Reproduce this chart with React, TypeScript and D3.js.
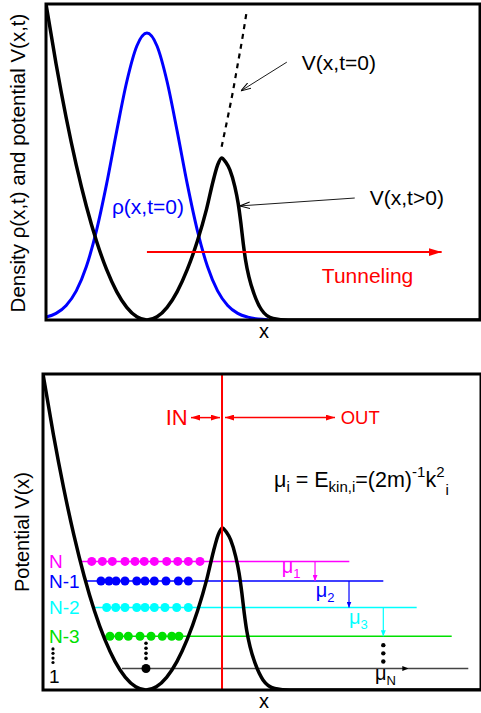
import * as d3 from 'd3';

// ---- top panel data (x, value) ----
const potentialTrap: [number, number][] = [
  [-1, 1], [-0.9, 0.81], [-0.8, 0.64], [-0.7, 0.49], [-0.6, 0.36], [-0.5, 0.25],
  [-0.4, 0.16], [-0.3, 0.09], [-0.2, 0.04], [-0.1, 0.01], [0, 0], [0.1, 0.01],
  [0.2, 0.04], [0.3, 0.09], [0.4, 0.16], [0.5, 0.25], [0.59, 0.35], [0.656, 0.44],
  [0.7, 0.49], [0.74, 0.513], [0.78, 0.5], [0.822, 0.475], [0.871, 0.422],
  [0.904, 0.369], [0.931, 0.306], [0.954, 0.243], [0.977, 0.19], [1.01, 0.137],
  [1.06, 0.084], [1.136, 0.032], [1.25, 0.005], [1.4, 0], [3.3, 0],
];
const potentialInitial: [number, number][] = [
  [0.74, 0.548], [0.8, 0.64], [0.85, 0.72], [0.9, 0.81], [0.95, 0.9], [0.985, 0.97],
];
const density: [number, number][] = [
  [-1, 0.009], [-0.9, 0.021], [-0.8, 0.046], [-0.7, 0.092], [-0.6, 0.169], [-0.5, 0.283],
  [-0.4, 0.43], [-0.3, 0.597], [-0.2, 0.754], [-0.1, 0.867], [0, 0.908], [0.1, 0.867],
  [0.2, 0.754], [0.3, 0.597], [0.4, 0.43], [0.5, 0.283], [0.6, 0.169], [0.7, 0.092],
  [0.8, 0.046], [0.9, 0.021], [1.0, 0.009], [1.1, 0.003], [1.2, 0.001],
];
const tunnelArrow: [number, number][] = [[0, 0.215], [2.92, 0.215]];
const arrowV0: [number, number][] = [[1.386, 0.816], [0.931, 0.725]];
const arrowVt: [number, number][] = [[2.059, 0.386], [0.921, 0.361]];

// ---- bottom panel data ----
const levelNames = ['N', 'N-1', 'N-2', 'N-3'];
const levelColors = ['#ff00ff', '#0000ff', '#00ffff', '#00e000'];
const levelEnergy = [0.407, 0.345, 0.261, 0.17];
const levelStart = [-0.621, -0.592, -0.495, -0.417];
const levelEnd = [1.974, 2.304, 2.628, 2.968];
const levelDots = [
  [-0.527, -0.424, -0.327, -0.204, -0.107, -0.017, 0.081, 0.201, 0.308, 0.411, 0.524],
  [-0.437, -0.359, -0.291, -0.204, -0.09, -0.01, 0.081, 0.194, 0.314, 0.411],
  [-0.382, -0.294, -0.204, -0.09, -0.01, 0.081, 0.184, 0.298, 0.411],
  [-0.35, -0.262, -0.172, -0.058, 0.049, 0.158, 0.25, 0.32],
];
const groundEnergy = 0.068;
const groundRange = [-0.233, 3.129];
const muArrowX = [1.641, 1.971, 2.304, 2.547];
const muSubs = ['1', '2', '3', 'N'];
const muColors = ['#ff00ff', '#0000ff', '#00ffff', '#000000'];
const muLabelPos: [number, number][] = [[1.318, 0.37], [1.648, 0.294], [1.971, 0.209], [2.223, 0.032]];
const centerDotsV = [0.148, 0.132, 0.116, 0.1];
const rightDotsV = [0.142, 0.116, 0.09];
const leftDotsV = [0.13, 0.116, 0.101, 0.087];
const barrierX = 0.738;

const FONT = 'Liberation Sans, Arial, Helvetica, sans-serif';

export default function App() {
  const xT = d3.scaleLinear().domain([-1, 3.3]).range([46, 480]);
  const yT = d3.scaleLinear().domain([0, 1]).range([320, 4]);
  const xB = d3.scaleLinear().domain([-1, 3.25]).range([43, 480.75]);
  const yB = d3.scaleLinear().domain([0, 1]).range([690, 374]);

  const lineT = d3.line<[number, number]>().x(d => xT(d[0])).y(d => yT(d[1])).curve(d3.curveMonotoneX);
  const lineB = d3.line<[number, number]>().x(d => xB(d[0])).y(d => yB(d[1])).curve(d3.curveMonotoneX);
  const straightT = d3.line<[number, number]>().x(d => xT(d[0])).y(d => yT(d[1]));

  const levels = levelNames.map((name, i) => ({
    name, color: levelColors[i], e: levelEnergy[i], x0: levelStart[i], x1: levelEnd[i], dots: levelDots[i],
  }));
  const muTargets = [...levelEnergy.slice(1), groundEnergy, 0];

  return (
    <svg width={481} height={713} style={{ position: 'absolute', left: 0, top: 0 }} fontFamily={FONT}>
      <defs>
        <clipPath id="clipT"><rect x={46} y={4} width={434} height={316} /></clipPath>
        <clipPath id="clipB"><rect x={43} y={374} width={438} height={316} /></clipPath>
        <marker id="openHead" viewBox="0 0 10 8" refX={10} refY={4} markerWidth={10} markerHeight={8}
          markerUnits="userSpaceOnUse" orient="auto">
          <path d="M0,0.8 L10,4 L0,7.2" fill="none" stroke="#000" strokeWidth={1} />
        </marker>
        <marker id="redBig" viewBox="0 0 13 8" refX={13} refY={4} markerWidth={13} markerHeight={8}
          markerUnits="userSpaceOnUse" orient="auto">
          <path d="M0,0 L13,4 L0,8 Z" fill="#ff0000" />
        </marker>
        <marker id="redSmall" viewBox="0 0 9 6" refX={9} refY={3} markerWidth={9} markerHeight={6}
          markerUnits="userSpaceOnUse" orient="auto-start-reverse">
          <path d="M0,0 L9,3 L0,6 Z" fill="#ff0000" />
        </marker>
        {muColors.map((c, i) => (
          <marker key={i} id={`mu${i}`} viewBox="0 0 6 5" refX={6} refY={2.5} markerWidth={6} markerHeight={5}
            markerUnits="userSpaceOnUse" orient="auto">
            <path d="M0,0 L6,2.5 L0,5 Z" fill={c} />
          </marker>
        ))}
      </defs>

      {/* ---------------- top panel ---------------- */}
      <g clipPath="url(#clipT)">
        <path d={lineT(density) ?? ''} fill="none" stroke="#0000ff" strokeWidth={3} />
        <path d={lineT(potentialTrap) ?? ''} fill="none" stroke="#000" strokeWidth={3.5} />
        <path d={lineT(potentialInitial) ?? ''} fill="none" stroke="#000" strokeWidth={2.2} strokeDasharray="5,5" />
      </g>
      <path d={straightT(tunnelArrow) ?? ''} stroke="#ff0000" strokeWidth={2} markerEnd="url(#redBig)" />
      <path d={straightT(arrowV0) ?? ''} stroke="#000" strokeWidth={0.9} markerEnd="url(#openHead)" />
      <path d={straightT(arrowVt) ?? ''} stroke="#000" strokeWidth={0.9} markerEnd="url(#openHead)" />
      <rect x={46} y={4} width={434} height={316} fill="none" stroke="#000" strokeWidth={3} />

      <text x={xT(1.535)} y={yT(0.791)} fontSize={21}>V(x,t=0)</text>
      <text x={xT(2.208)} y={yT(0.364)} fontSize={21}>V(x,t&gt;0)</text>
      <text x={xT(-0.347)} y={yT(0.335)} fontSize={21} fill="#0000ff">ρ(x,t=0)</text>
      <text x={xT(1.733)} y={yT(0.117)} fontSize={21} fill="#ff0000">Tunneling</text>
      <text x={264} y={338} fontSize={20} textAnchor="middle">x</text>
      <text transform="translate(25,163) rotate(-90)" fontSize={20.5} textAnchor="middle">
        Density ρ(x,t) and potential V(x,t)
      </text>

      {/* ---------------- bottom panel ---------------- */}
      <g clipPath="url(#clipB)">
        {levels.map((l, i) => (
          <line key={i} x1={xB(l.x0)} x2={xB(l.x1)} y1={yB(l.e)} y2={yB(l.e)} stroke={l.color} strokeWidth={1.5} />
        ))}
        <line x1={xB(groundRange[0])} x2={xB(groundRange[1])} y1={yB(groundEnergy)} y2={yB(groundEnergy)}
          stroke="#444" strokeWidth={1.3} />
        {levels.map((l, i) => (
          <g key={i}>
            {l.dots.map((d, j) => (
              <circle key={j} cx={xB(d)} cy={yB(l.e)} r={4.5} fill={l.color} />
            ))}
          </g>
        ))}
        {centerDotsV.map((v, j) => <circle key={j} cx={xB(0)} cy={yB(v)} r={1.8} fill="#000" />)}
        <circle cx={xB(0)} cy={yB(groundEnergy)} r={4.5} fill="#000" />
        {rightDotsV.map((v, j) => <circle key={j} cx={xB(muArrowX[2])} cy={yB(v)} r={2.2} fill="#000" />)}
        <path d={lineB(potentialTrap) ?? ''} fill="none" stroke="#000" strokeWidth={3.5} />
        <line x1={xB(barrierX)} x2={xB(barrierX)} y1={yB(1)} y2={yB(0)} stroke="#ff0000" strokeWidth={2} />
      </g>
      {muArrowX.map((x, i) => (
        <line key={i} x1={xB(x)} x2={xB(x)} y1={yB(i < 3 ? levelEnergy[i] : groundEnergy)} y2={yB(muTargets[i])}
          stroke={muColors[i]} strokeWidth={1.2} markerEnd={`url(#mu${i})`} />
      ))}
      {muLabelPos.map((p, i) => (
        <text key={i} x={xB(p[0])} y={yB(p[1])} fontSize={20} fill={muColors[i]}>
          μ<tspan fontSize={13} dy={5}>{muSubs[i]}</tspan>
        </text>
      ))}
      {leftDotsV.map((v, j) => <circle key={j} cx={xB(-0.903)} cy={yB(v)} r={1.6} fill="#000" />)}
      {levels.map((l, i) => (
        <text key={i} x={xB(-0.942)} y={yB(l.e)} dy="0.36em" fontSize={19} fill={l.color}>{l.name}</text>
      ))}
      <text x={xB(-0.942)} y={yB(0.022)} fontSize={19}>1</text>

      <line x1={xB(0.437)} x2={xB(0.718)} y1={yB(0.862)} y2={yB(0.862)} stroke="#ff0000" strokeWidth={1.5}
        markerStart="url(#redSmall)" markerEnd="url(#redSmall)" />
      <line x1={xB(0.767)} x2={xB(1.835)} y1={yB(0.862)} y2={yB(0.862)} stroke="#ff0000" strokeWidth={1.5}
        markerStart="url(#redSmall)" markerEnd="url(#redSmall)" />
      <text x={xB(0.191)} y={yB(0.839)} fontSize={22} fill="#ff0000">IN</text>
      <text x={xB(1.89)} y={yB(0.842)} fontSize={18.5} fill="#ff0000">OUT</text>

      <text x={xB(1.243)} y={yB(0.643)} fontSize={21.5}>
        μ<tspan fontSize={15} dy={5}>i</tspan>
        <tspan dy={-5}> = E</tspan>
        <tspan fontSize={15} dy={5}>kin,i</tspan>
        <tspan dy={-5}>=(2m)</tspan>
        <tspan fontSize={15} dy={-10}>-1</tspan>
        <tspan dy={10}>k</tspan>
        <tspan fontSize={15} dy={-10}>2</tspan>
        <tspan fontSize={15} dx={1} dy={18}>i</tspan>
      </text>

      <rect x={43} y={374} width={438} height={316} fill="none" stroke="#000" strokeWidth={3} />
      <text x={264} y={708} fontSize={20} textAnchor="middle">x</text>
      <text transform="translate(29,532) rotate(-90)" fontSize={20} textAnchor="middle">Potential V(x)</text>
    </svg>
  );
}
